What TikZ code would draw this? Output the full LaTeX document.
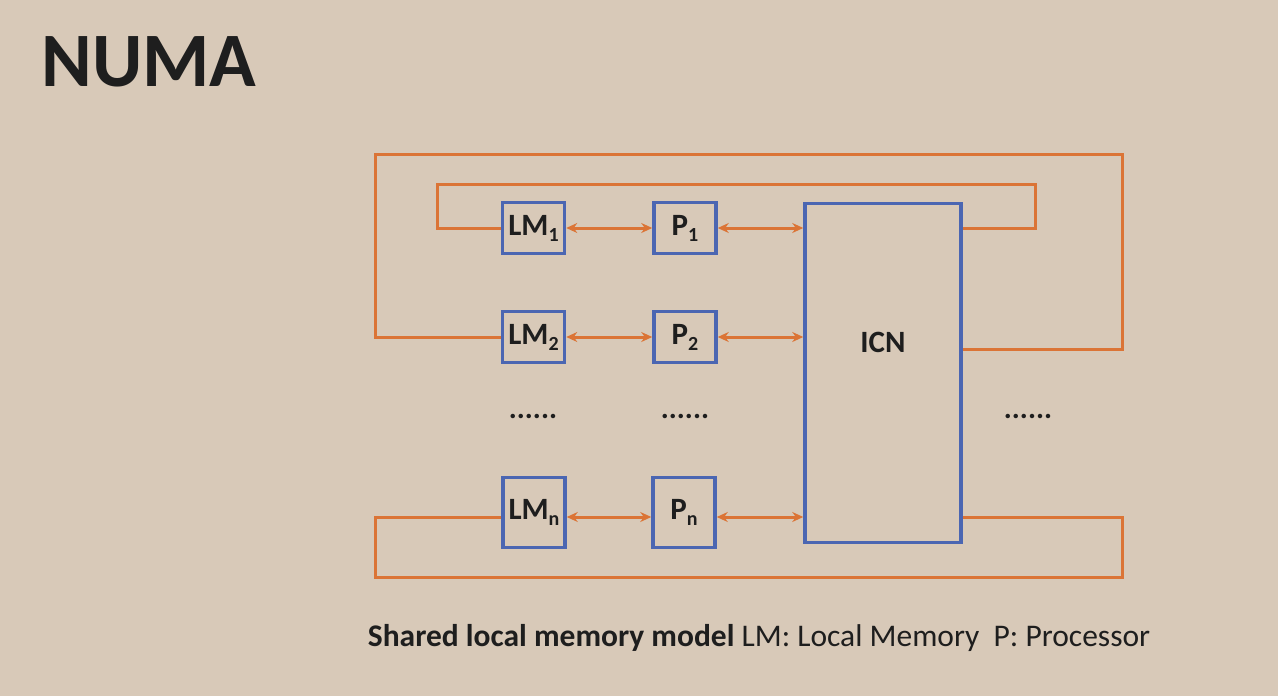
\documentclass[tikz,border=0pt]{standalone}
\usepackage{fontspec}
\setmainfont{Carlito}
\usetikzlibrary{arrows.meta}
\definecolor{bg}{HTML}{D8C9B8}
\definecolor{wireC}{HTML}{DB7436}
\definecolor{boxC}{HTML}{4B66B2}
\definecolor{txt}{HTML}{1E1E1E}
\newcommand\sbs[1]{\raisebox{-6pt}{\fontsize{20}{20}\selectfont #1}}
\tikzset{
  unit/.style={draw=boxC, line width=3.5pt, minimum width=62pt, minimum height=51pt, inner sep=0pt, text=txt, font=\bfseries\fontsize{31}{33}\selectfont},
  icnbox/.style={draw=boxC, line width=3.5pt, minimum width=156pt, minimum height=339pt, inner sep=0pt},
  wire/.style={draw=wireC, line width=3pt},
  biarrow/.style={draw=wireC, line width=3pt, {Stealth[length=11pt,width=10pt]}-{Stealth[length=11pt,width=10pt]}},
  dots/.style={text=txt, font=\bfseries\fontsize{30}{30}\selectfont},
}
\begin{document}
\begin{tikzpicture}[x=1pt,y=-1pt]
\useasboundingbox[fill=bg] (0,0) rectangle (1278,696);
\node[anchor=west, text=txt, font=\bfseries\fontsize{77}{80}\selectfont] (title) at (38,62) {NUMA};

\node[unit] (LM1) at (533.5,228) {LM\sbs{1}};
\node[unit] (P1)  at (685,228) {P\sbs{1}};
\node[unit] (LM2) at (533.5,337) {LM\sbs{2}};
\node[unit] (P2)  at (685,337) {P\sbs{2}};
\node[unit, minimum height=70pt] (LMn) at (534,512.5) {LM\sbs{n}};
\node[unit, minimum height=70pt] (Pn)  at (684,512.5) {P\sbs{n}};
\node[icnbox] (ICN) at (883,373) {};
\node[text=txt, font=\bfseries\fontsize{31}{33}\selectfont] (ICNl) at (883,342) {ICN};

\node[dots] (d1) at (533,416) {......};
\node[dots] (d2) at (685,416) {......};
\node[dots] (d3) at (1028,416) {......};

\coordinate (i1) at (963,228);
\coordinate (i2) at (963,349);
\coordinate (in) at (963,517);

\draw[biarrow] (LM1.east) -- (P1.west);
\draw[biarrow] (P1.east) -- (ICN.west |- P1.east);
\draw[biarrow] (LM2.east) -- (P2.west);
\draw[biarrow] (P2.east) -- (ICN.west |- P2.east);
\draw[biarrow] (LMn.east |- 0,517) -- (Pn.west |- 0,517);
\draw[biarrow] (Pn.east |- 0,517) -- (ICN.west |- 0,517);

\draw[wire] (LM1.west) -- (437,228) -- (437,184) -- (1035,184) -- (1035,228) -- (i1);
\draw[wire] (LM2.west) -- (375,337) -- (375,154) -- (1122,154) -- (1122,349) -- (i2);
\draw[wire] (LMn.west |- 0,517) -- (375,517) -- (375,577) -- (1122,577) -- (1122,517) -- (in);

\node[text=txt, font=\fontsize{31.5}{33}\selectfont] (cap) at (759,638) {\textbf{Shared local memory model} LM: Local Memory\ \ P: Processor};
\end{tikzpicture}
\end{document}
